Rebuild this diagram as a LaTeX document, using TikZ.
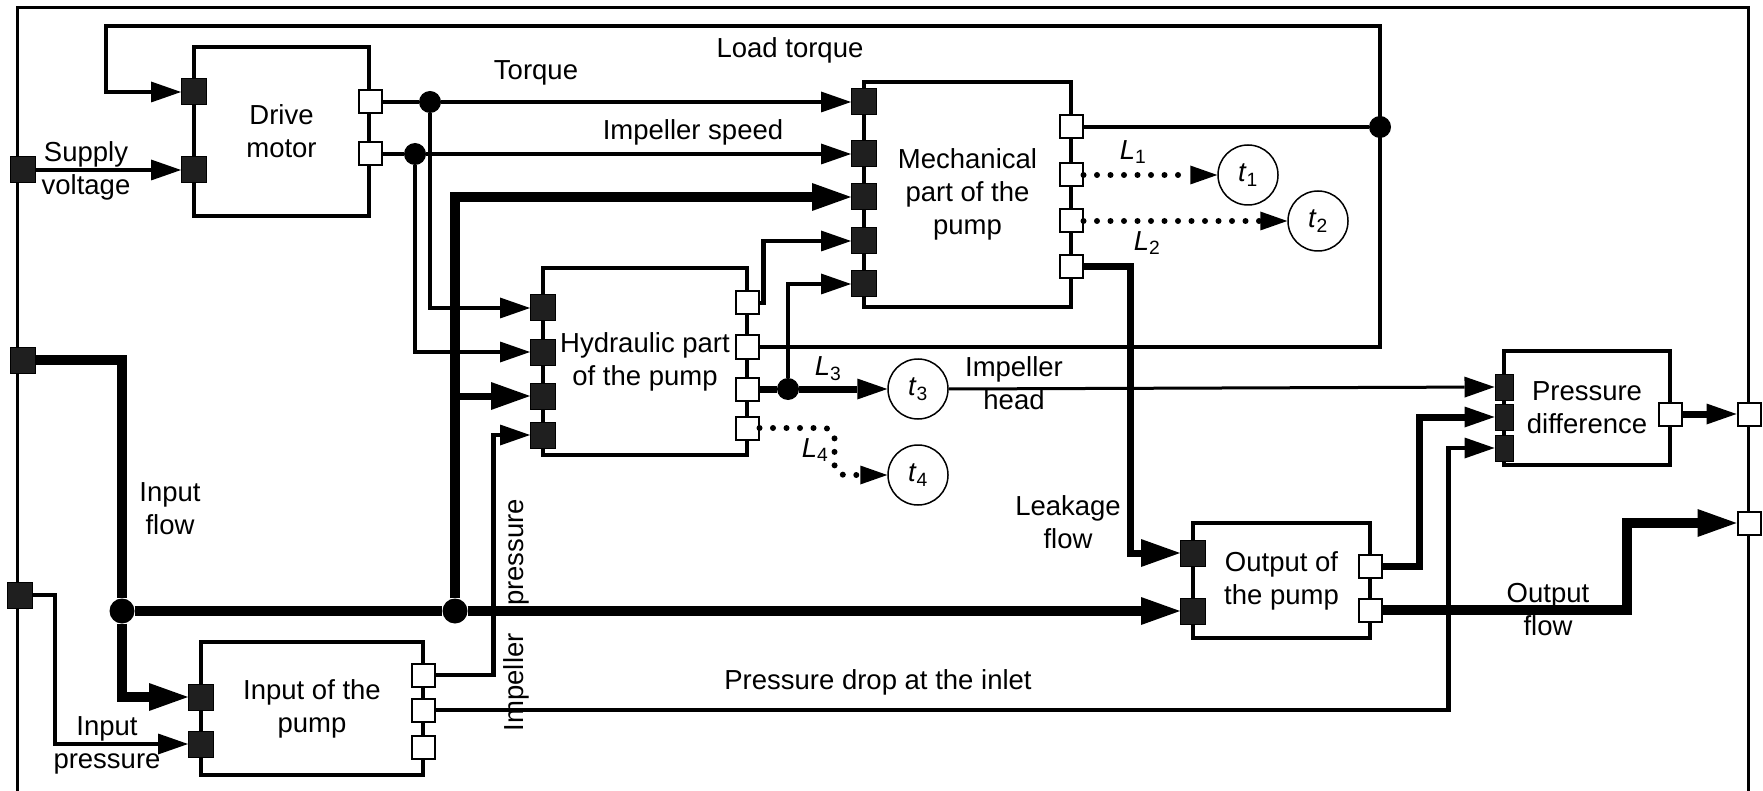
\documentclass[tikz,border=0pt]{standalone}
\usepackage{fontspec}
\setmainfont{Liberation Sans}
\usetikzlibrary{arrows.meta}

\begin{document}
\begin{tikzpicture}[x=1pt, y=-1pt,
    lbl/.style={font=\fontsize{27.5}{33}\selectfont, align=center, inner sep=0pt},
    block/.style={lbl, draw, line width=3.5pt},
    inport/.style={draw, line width=1pt, fill=black!88, minimum width=25pt, minimum height=26pt, inner sep=0pt},
    outport/.style={draw, line width=2pt, fill=white, minimum width=23pt, minimum height=23pt, inner sep=0pt},
    jdot/.style={circle, fill, inner sep=0pt, minimum size=22pt},
    probe/.style={lbl, circle, draw, line width=1.5pt, minimum size=60pt},
    thinflow/.style={line width=4.5pt},
    midflow/.style={line width=7pt},
    heavyflow/.style={line width=10pt},
    dotflow/.style={line width=6pt, line cap=round, dash pattern=on 0pt off 13.5pt},
    arrS/.style={-{Triangle[length=30pt, width=21pt, line width=0pt]}},
    arrL/.style={-{Triangle[length=39pt, width=28pt, line width=0pt]}},
    arrD/.style={-{Triangle[length=27pt, width=19pt, line width=0pt]}},
  ]

  % --- Frame ---
  \useasboundingbox (0,0) rectangle (1763,791);
  \draw[line width=3pt] (17,791) -- (17,8) -- (1748,8) -- (1748,791);

  % --- Blocks ---
  \node[block, minimum width=175pt, minimum height=169pt] (motor) at (281.5,131.5) {Drive\\motor};
  \node[block, minimum width=207pt, minimum height=225pt] (mech) at (967.5,194.5) {Mechanical\\part of the\\pump};
  \node[block, minimum width=204pt, minimum height=187pt] (hydr) at (645,361.5) {Hydraulic part\\of the pump};
  \node[block, minimum width=222pt, minimum height=133pt] (inpump) at (312,708.5) {Input of the\\pump};
  \node[block, minimum width=177pt, minimum height=115pt] (outpump) at (1281.5,580.5) {Output of\\the pump};
  \node[block, minimum width=166pt, minimum height=114pt] (pdiff) at (1587,408) {Pressure\\difference};

  % --- Ports ---
  \foreach \y [count=\i] in {92,170} \node[inport] (mIn\i) at (194,\y) {};
  \foreach \y [count=\i] in {102,154} \node[outport] (mOut\i) at (370,\y) {};
  \foreach \y [count=\i] in {102,154,197,241,284} \node[inport] (kIn\i) at (864,\y) {};
  \foreach \y [count=\i] in {127,175,221,267} \node[outport] (kOut\i) at (1071,\y) {};
  \foreach \y [count=\i] in {308,352,396,435} \node[inport] (hIn\i) at (543,\y) {};
  \foreach \y [count=\i] in {303,347,389,428} \node[outport] (hOut\i) at (747,\y) {};
  \foreach \y [count=\i] in {697,744} \node[inport] (iIn\i) at (201,\y) {};
  \foreach \y [count=\i] in {675,710,747} \node[outport] (iOut\i) at (423,\y) {};
  \foreach \y [count=\i] in {553,611} \node[inport] (oIn\i) at (1193,\y) {};
  \foreach \y [count=\i] in {566,610} \node[outport] (oOut\i) at (1370,\y) {};
  \foreach \y [count=\i] in {387,417,448} \node[inport, minimum width=18pt] (dIn\i) at (1504,\y) {};
  \node[outport] (dOut) at (1670,414) {};

  % frame ports
  \node[inport] (supply) at (23,170) {};
  \node[inport] (flowIn) at (23,360) {};
  \node[inport] (presIn) at (20,595) {};
  \node[outport] (headOut) at (1749,414) {};
  \node[outport] (flowOut) at (1749,523) {};

  % --- Junctions ---
  \node[jdot] (dTorque) at (430,102) {};
  \node[jdot] (dSpeed) at (415,154) {};
  \node[jdot] (dLoad) at (1380,127) {};
  \node[jdot, minimum size=25pt] (dFlowA) at (122,611) {};
  \node[jdot, minimum size=25pt] (dFlowB) at (455,611) {};
  \node[jdot] (dHead) at (788,389) {};

  % --- Temperature points ---
  \node[probe] (t1) at (1248,175) {\textit{t}\textsubscript{1}};
  \node[probe] (t2) at (1318,221) {\textit{t}\textsubscript{2}};
  \node[probe] (t3) at (918,389) {\textit{t}\textsubscript{3}};
  \node[probe] (t4) at (918,475) {\textit{t}\textsubscript{4}};

  % --- Labels ---
  \node[lbl] (lSupply) at (86,171) {Supply\\voltage};
  \node[lbl] (lLoad) at (790,50) {Load torque};
  \node[lbl] (lTorque) at (536,73) {Torque};
  \node[lbl] (lSpeed) at (693,132) {Impeller speed};
  \node[lbl] (lL1) at (1133,152) {\textit{L}\textsubscript{1}};
  \node[lbl] (lL2) at (1147,243) {\textit{L}\textsubscript{2}};
  \node[lbl] (lL3) at (828,369) {\textit{L}\textsubscript{3}};
  \node[lbl] (lL4) at (815,450) {\textit{L}\textsubscript{4}};
  \node[lbl] (lHead) at (1014,383) {Impeller\\head};
  \node[lbl] (lLeak) at (1068,522) {Leakage\\flow};
  \node[lbl] (lInFlow) at (170,509) {Input\\flow};
  \node[lbl] (lInPres) at (107,745) {Input\\pressure};
  \node[lbl, rotate=90] (lImpPres) at (516,615) {Impeller\hspace{1em}pressure};
  \node[lbl] (lDrop) at (878,682) {Pressure drop at the inlet};
  \node[lbl] (lOutFlow) at (1548,610) {Output\\flow};

  % --- Connectors ---
  \coordinate (ltR) at (1380,26);
  \coordinate (ltL) at (106,26);
  \draw[thinflow, arrS] (hOut2.east) -| (ltR) -- (ltL) |- (mIn1.west);
  \draw[thinflow] (kOut1.east) -- (dLoad);
  \draw[thinflow, arrS] (supply.east) -- (mIn2.west);

  \draw[thinflow] (mOut1.east) -- (dTorque);
  \draw[thinflow, arrS] (dTorque) -- (kIn1.west);
  \draw[thinflow, arrS] (dTorque) |- (hIn1.west);
  \draw[thinflow] (mOut2.east) -- (dSpeed);
  \draw[thinflow, arrS] (dSpeed) -- (kIn2.west);
  \draw[thinflow, arrS] (dSpeed) |- (hIn2.west);

  \draw[heavyflow, arrL] (flowIn.east) -| (dFlowA) |- (iIn1.west);
  \draw[heavyflow] (dFlowA) -- (dFlowB);
  \draw[heavyflow, arrL] (dFlowB) -- (oIn2.west);
  \draw[heavyflow, arrL] (dFlowB) |- (kIn3.west);
  \draw[midflow, arrL] (dFlowB |- hIn3) -- (hIn3.west);

  \draw[thinflow, arrS] (presIn.east) -- ++(22,0) |- (iIn2.west);
  \draw[thinflow, arrS] (iOut1.east) -- ++(58,0) |- (hIn4.west);
  \draw[thinflow, arrS] (iOut2.east) -| ([xshift=-46pt]dIn3.west) -- (dIn3.west);

  \draw[thinflow, arrS] (hOut1.east) -- ++(4,0) |- (kIn4.west);
  \draw[midflow] (hOut3.east) -- (dHead);
  \draw[midflow, arrS] (dHead) -- (t3);
  \draw[thinflow, arrS] (dHead) |- (kIn5.west);
  \draw[dotflow, arrD, rounded corners=10pt] (hOut4.east) -- ++(75,0) |- (t4.west);
  \draw[line width=3pt, arrS] (t3.east) -- (dIn1.west);

  \draw[dotflow, arrD] (kOut2.east) -- (t1.west);
  \draw[dotflow, arrD] (kOut3.east) -- (t2.west);
  \draw[midflow, arrL] (kOut4.east) -- ++(47,0) |- (oIn1.west);

  \draw[midflow, arrS] (oOut1.east) -- ++(36.5,0) |- (dIn2.west);
  \draw[heavyflow, arrL] (oOut2.east) -- ++(244,0) |- (flowOut.west);
  \draw[midflow, arrS] (dOut.east) -- (headOut.west);

\end{tikzpicture}
\end{document}
